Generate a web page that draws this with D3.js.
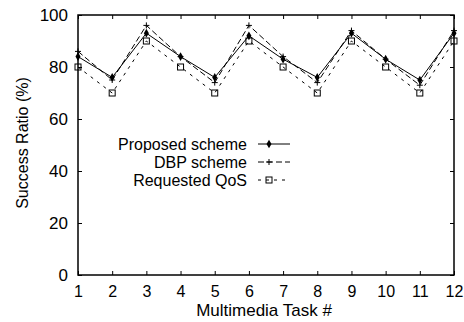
<!DOCTYPE html>
<html>
<head>
<meta charset="utf-8">
<script src="https://cdn.jsdelivr.net/npm/d3@7"></script>
<style>
  body { margin: 0; background: #fff; }
  text { font-family: "Liberation Sans", Arial, sans-serif; fill: #000; }
</style>
</head>
<body>
<div id="chart"></div>
<script>
// data
var tasks = [1, 2, 3, 4, 5, 6, 7, 8, 9, 10, 11, 12];
var proposed = [84, 76, 93, 84, 76, 92, 83, 76, 93, 83, 75, 93];
var dbp = [86, 75, 96, 84, 74, 96, 84, 74, 94, 83, 73, 94];
var requested = [80, 70, 90, 80, 70, 90, 80, 70, 90, 80, 70, 90];
var yTicks = [0, 20, 40, 60, 80, 100];
var seriesNames = ["Proposed scheme", "DBP scheme", "Requested QoS"];

var W = 464, H = 322;
var margin = { top: 15, right: 10, bottom: 47, left: 78 },
  width = W - margin.left - margin.right,
  height = H - margin.top - margin.bottom;

var svg = d3.select("#chart")
  .append("svg")
  .attr("width", W)
  .attr("height", H)
  .append("g")
  .attr("transform", "translate(" + margin.left + "," + margin.top + ")");

var x = d3.scaleLinear().domain([1, 12]).range([0, width]);
var y = d3.scaleLinear().domain([0, 100]).range([height, 0]);

var tickLen = 4;

// bottom axis with inward ticks
svg.append("g")
  .attr("transform", "translate(0," + height + ")")
  .call(d3.axisBottom(x).tickValues(tasks).tickSizeInner(-tickLen).tickSizeOuter(0).tickPadding(11))
  .call(g => g.select(".domain").remove())
  .selectAll("text")
  .style("font-size", "16px");

// top mirror ticks
svg.append("g")
  .call(d3.axisTop(x).tickValues(tasks).tickSizeInner(-tickLen).tickSizeOuter(0).tickFormat(""))
  .call(g => g.select(".domain").remove());

// left axis
svg.append("g")
  .call(d3.axisLeft(y).tickValues(yTicks).tickSizeInner(-tickLen).tickSizeOuter(0).tickPadding(10))
  .call(g => g.select(".domain").remove())
  .selectAll("text")
  .style("font-size", "17px");

// right mirror ticks
svg.append("g")
  .attr("transform", "translate(" + width + ",0)")
  .call(d3.axisRight(y).tickValues(yTicks).tickSizeInner(-tickLen).tickSizeOuter(0).tickFormat(""))
  .call(g => g.select(".domain").remove());

svg.selectAll(".tick line").attr("stroke", "#000");

// frame
svg.append("rect")
  .attr("width", width)
  .attr("height", height)
  .attr("fill", "none")
  .attr("stroke", "#000")
  .attr("stroke-width", 1.5);

var styles = [
  { data: proposed, dash: null, marker: "dot" },
  { data: dbp, dash: "6,3", marker: "plus" },
  { data: requested, dash: "3,5", marker: "square" }
];

var line = d3.line()
  .x((d, i) => x(tasks[i]))
  .y(d => y(d));

function drawMarker(g, type, cx, cy) {
  if (type === "dot") {
    g.append("path")
      .attr("d", d3.symbol().type(d3.symbolDiamond).size(22)())
      .attr("transform", "translate(" + cx + "," + cy + ")")
      .attr("fill", "#000");
  } else if (type === "plus") {
    g.append("path")
      .attr("d", "M" + (cx - 3) + "," + cy + "H" + (cx + 3) + "M" + cx + "," + (cy - 3) + "V" + (cy + 3))
      .attr("stroke", "#000")
      .attr("stroke-width", 1);
  } else {
    g.append("rect")
      .attr("x", cx - 3)
      .attr("y", cy - 3)
      .attr("width", 6)
      .attr("height", 6)
      .attr("fill", "none")
      .attr("stroke", "#000")
      .attr("stroke-width", 1);
  }
}

styles.forEach(function (s) {
  svg.append("path")
    .datum(s.data)
    .attr("d", line)
    .attr("fill", "none")
    .attr("stroke", "#000")
    .attr("stroke-width", 1)
    .attr("stroke-dasharray", s.dash);
  var mg = svg.append("g");
  s.data.forEach(function (v, i) { drawMarker(mg, s.marker, x(tasks[i]), y(v)); });
});

// legend
var legend = svg.append("g");
var legendY = d3.scalePoint().domain(seriesNames).range([129, 165]);
styles.forEach(function (s, i) {
  var ly = legendY(seriesNames[i]);
  legend.append("text")
    .attr("x", 169)
    .attr("y", ly)
    .attr("dy", "0.35em")
    .attr("text-anchor", "end")
    .style("font-size", "16px")
    .text(seriesNames[i]);
  legend.append("line")
    .attr("x1", 180).attr("x2", 212)
    .attr("y1", ly).attr("y2", ly)
    .attr("stroke", "#000")
    .attr("stroke-width", 1)
    .attr("stroke-dasharray", s.dash);
  drawMarker(legend, s.marker, 191, ly);
});

// axis titles
svg.append("text")
  .attr("x", width / 2 - 2)
  .attr("y", height + 41)
  .attr("text-anchor", "middle")
  .style("font-size", "17px")
  .text("Multimedia Task #");

svg.append("text")
  .attr("transform", "rotate(-90)")
  .attr("x", -height / 2 + 2)
  .attr("y", -margin.left + 28)
  .attr("text-anchor", "middle")
  .style("font-size", "16px")
  .text("Success Ratio (%)");
</script>
</body>
</html>
